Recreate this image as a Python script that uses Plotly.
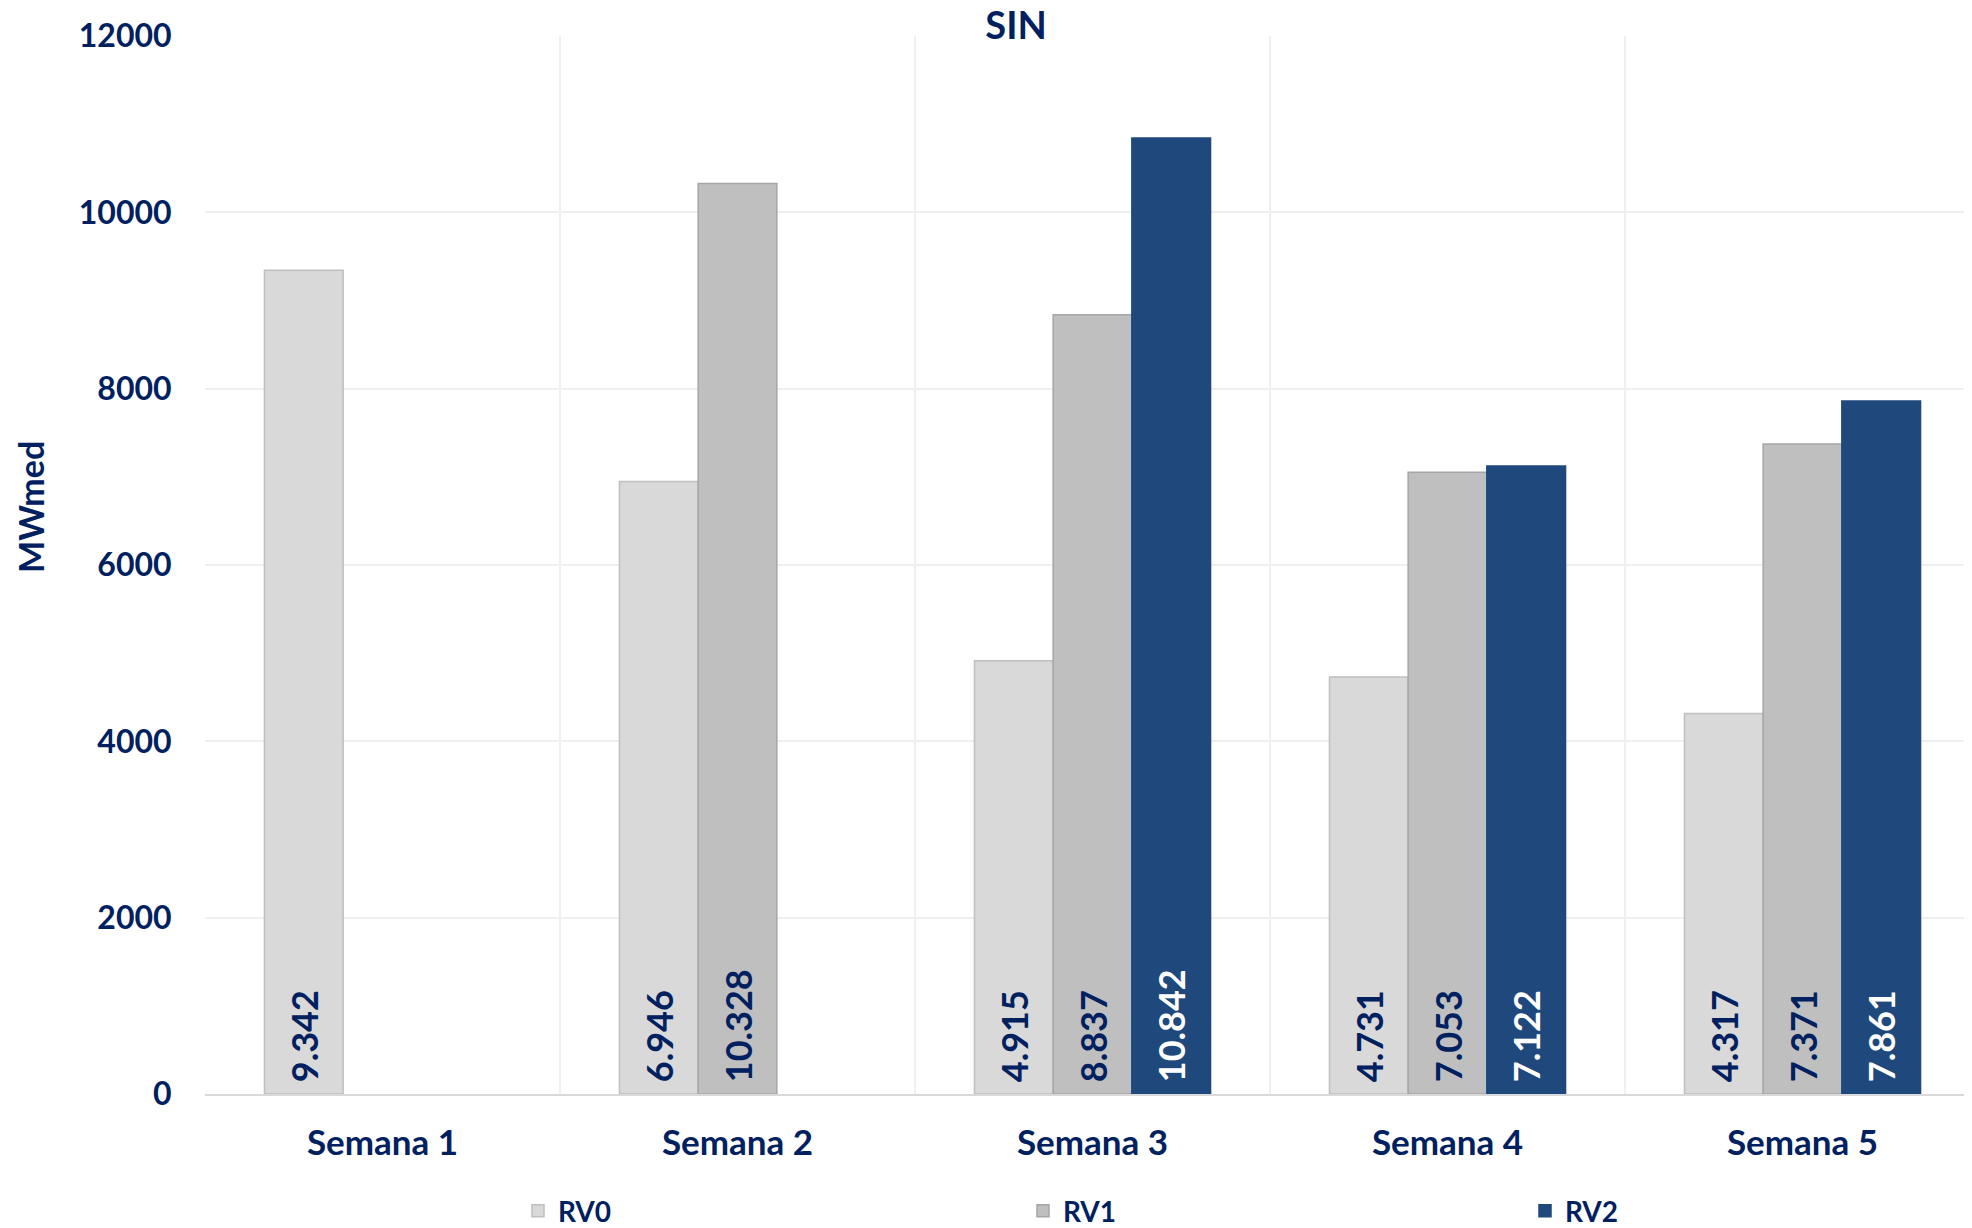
import plotly.graph_objects as go

categories = ["Semana 1", "Semana 2", "Semana 3", "Semana 4", "Semana 5"]
rv0 = [9342, 6946, 4915, 4731, 4317]
rv1 = [None, 10328, 8837, 7053, 7371]
rv2 = [None, None, 10842, 7122, 7861]
y_ticks = [0, 2000, 4000, 6000, 8000, 10000, 12000]

NAVY = "#002060"
FONT = "Lato"
L, T, B = 197, 28, 142
W, H = 1972, 1228
PW = W - L


def fmt(v):
    if v is None:
        return ""
    return "<b>\u00a0" + f"{v:,}".replace(",", ".") + "</b>"


series = [
    ("RV0", rv0, "#d9d9d9", "#bfbfbf", NAVY, "legend", 510),
    ("RV1", rv1, "#bfbfbf", "#a6a6a6", NAVY, "legend2", 1015),
    ("RV2", rv2, "#1f497d", "#1f497d", "#ffffff", "legend3", 1517),
]

fig = go.Figure()
legends = {}
for name, vals, fill, line, tcol, leg, lx in series:
    fig.add_trace(go.Bar(
        name=f"<b>{name}</b>", x=categories, y=vals, legend=leg,
        marker=dict(color=fill, line=dict(color=line, width=1.5)),
        text=[fmt(v) for v in vals],
        textposition="inside", insidetextanchor="start", textangle=-90,
        textfont=dict(family=FONT, size=36, color=tcol),
        cliponaxis=False,
    ))
    legends[leg] = dict(orientation="h", x=(lx - L) / PW, xanchor="left",
                        yref="container", y=1 - 1203 / H, yanchor="middle",
                        font=dict(family=FONT, size=28, color=NAVY),
                        itemclick=False, bgcolor="rgba(0,0,0,0)")

fig.update_layout(
    width=W, height=H,
    margin=dict(l=L, r=0, t=T, b=B),
    paper_bgcolor="white", plot_bgcolor="white",
    barmode="group", bargap=0.335, bargroupgap=0,
    uniformtext=dict(mode=False),
    font=dict(family=FONT, color=NAVY),
    title=dict(text="<b>SIN</b>", x=1008 / W, xanchor="center", y=1 - 18 / H, yanchor="middle",
               font=dict(family=FONT, size=38, color=NAVY)),
    showlegend=True,
    annotations=[dict(text="<b>MWmed</b>", textangle=-90, xref="paper", x=(23 - L) / PW,
                      xanchor="center", yref="paper", y=1 - (499 - T) / (H - T - B),
                      yanchor="middle", showarrow=False,
                      font=dict(family=FONT, size=34, color=NAVY))],
    **legends,
)
fig.update_xaxes(
    tickson="boundaries", showgrid=True, gridcolor="#efefef", gridwidth=1.5,
    showline=True, linecolor="#d9d9d9", linewidth=2,
    ticks="outside", ticklen=44, tickcolor="rgba(0,0,0,0)", ticklabelstandoff=17,
    tickfont=dict(family=FONT, size=35, color=NAVY, weight="bold"),
    automargin=False,
)
fig.update_yaxes(
    range=[0, 12000], tickvals=y_ticks, ticktext=[str(t) for t in y_ticks],
    showgrid=True, gridcolor="#efefef", gridwidth=1.5, zeroline=False,
    ticks="outside", ticklen=26, tickcolor="rgba(0,0,0,0)",
    tickfont=dict(family=FONT, size=32, color=NAVY, weight="bold"),
    automargin=False,
)

fig.write_html("out.html")
